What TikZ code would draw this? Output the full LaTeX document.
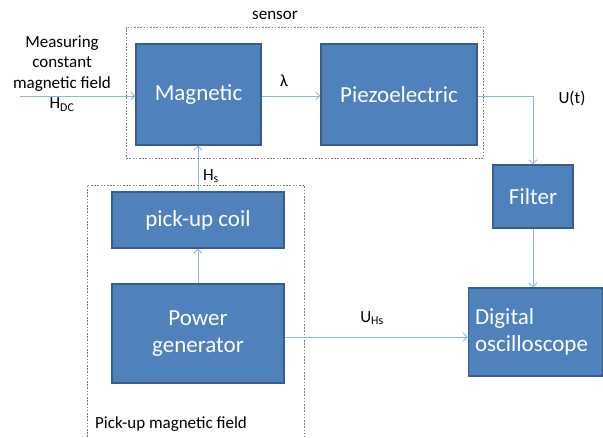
\documentclass[tikz,border=0pt]{standalone}
\usepackage{fontspec}
\setmainfont{Carlito}
\usepackage{xcolor}
\usepackage{tikz}
\usetikzlibrary{arrows.meta}
\definecolor{boxfill}{RGB}{79,129,189}
\definecolor{boxline}{RGB}{56,93,138}
\definecolor{wire}{RGB}{141,180,226}
\definecolor{dashgray}{RGB}{120,120,120}

\begin{document}
\begin{tikzpicture}[x=1pt,y=-1pt,
block/.style={draw=boxline,line width=1.4pt,fill=boxfill,text=white,inner sep=0pt,font=\fontsize{23}{27}\selectfont},
lbl/.style={inner sep=0pt,font=\fontsize{17}{20.5}\selectfont},
wireto/.style={wire,line width=0.9pt,-{Straight Barb[length=4pt,width=8pt]}},
frame/.style={dashgray,line width=0.7pt,dash pattern=on 1.6pt off 1.6pt}]
\useasboundingbox(0,0)rectangle(603,437);
\draw[frame](126,27)rectangle(483,158);
\draw[frame](87,437)--(87,185)--(304,185)--(304,437);
\node[lbl](sensorlbl)at(275,15){sensor};
\node[lbl,anchor=west](pickuplbl)at(95,424){Pick-up magnetic field};
\node[block,minimum width=125pt,minimum height=101pt](mag)at(198.5,94.5){Magnetic};
\node[block,minimum width=156pt,minimum height=101pt](piezo)at(399,94.5){Piezoelectric};
\node[block,minimum width=172pt,minimum height=56pt](coil)at(198,220){pick-up coil};
\node[block,minimum width=172pt,minimum height=99pt,align=center](gen)at(198,333.5){Power\\generator};
\node[block,minimum width=80pt,minimum height=63pt](filter)at(533,196.5){Filter};
\node[block,minimum width=134pt,minimum height=88pt,align=left,text width=121pt](osc)at(535.5,332){Digital\\oscilloscope};
\coordinate(hdc)at(20,96);
\node[lbl,align=center](hdclbl)at(62,73.5){Measuring\\constant\\magnetic field\\H\textsubscript{DC}};
\node[lbl](lambda)at(284,81){λ};
\node[lbl](ut)at(572,98){U(t)};
\node[lbl](hs)at(211,176){H\textsubscript{s}};
\node[lbl](uhs)at(372,318){U\textsubscript{Hs}};
\draw[wireto](hdc)--(hdc-|mag.west);
\draw[wireto](mag.east|-hdc)--(hdc-|piezo.west);
\draw[wireto](piezo.east|-hdc)-|(filter.north);
\draw[wireto](filter.south)--(filter.south|-osc.north);
\draw[wireto](gen.north)--(coil.south);
\draw[wireto](coil.north)--(coil.north|-mag.south);
\draw[wireto](gen.east|-0,337)--(osc.west|-0,337);
\end{tikzpicture}
\end{document}
